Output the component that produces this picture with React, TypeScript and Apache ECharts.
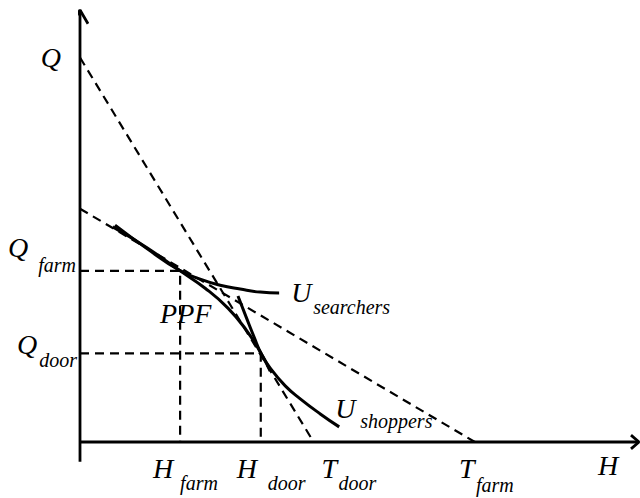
import React, { useEffect, useRef } from "react";
import * as echarts from "echarts";

// ---- axis extents (arbitrary units) ----
const X_MAX = 10.05;
const Y_MIN = -0.5;
const Y_MAX = 10;

// ---- key values ----
const Q_INTERCEPT = 8.9; // door price line meets Q axis
const T_DOOR = 4.2;
const FARM_INTERCEPT = 5.4; // farm price line meets Q axis
const T_FARM = 7.1;
const H_FARM = 1.8;
const Q_FARM = 3.96;
const H_DOOR = 3.25;
const Q_DOOR = 2.05;

// ---- curves ----
const ppfX = [0.59, 1.19, 1.78, 2.25, 2.66, 2.99, 3.26, 3.42];
const ppfY = [4.98, 4.51, 3.98, 3.56, 3.10, 2.59, 2.04, 1.64];

const searchersX = [0.63, 1.21, 1.78, 2.16, 2.52, 2.88, 3.24, 3.58];
const searchersY = [5.02, 4.47, 3.98, 3.77, 3.63, 3.54, 3.47, 3.45];

const shoppersX = [2.84, 3.0, 3.13, 3.26, 3.42, 3.69, 3.96, 4.32, 4.66];
const shoppersY = [3.38, 2.85, 2.43, 2.04, 1.71, 1.3, 1.0, 0.65, 0.35];

const zip = (xs: number[], ys: number[]) => xs.map((x, i) => [x, ys[i]]);

const FONT = "'Liberation Serif', 'Times New Roman', serif";
const MAIN = 28;
const SUB = 20;

export default function App() {
  const ref = useRef<HTMLDivElement>(null);
  useEffect(() => {
    document.body.style.margin = "0";
    const chart = echarts.init(ref.current!, undefined, { renderer: "svg" });

    const solid = (name: string, data: number[][], width = 2.8, smooth = false) => ({
      name,
      type: "line",
      data,
      smooth,
      showSymbol: false,
      silent: true,
      lineStyle: { color: "#000", width, type: "solid" },
    });
    const dashed = (name: string, data: number[][]) => ({
      name,
      type: "line",
      data,
      showSymbol: false,
      silent: true,
      lineStyle: { color: "#000", width: 2.2, type: [9, 6] },
    });

    const arrowDX = 0.144;
    const arrowDY = 0.32;

    chart.setOption({
      animation: false,
      grid: { left: 80, top: 10, width: 559, height: 453.6 },
      xAxis: { type: "value", min: 0, max: X_MAX, show: false },
      yAxis: { type: "value", min: Y_MIN, max: Y_MAX, show: false },
      series: [
        solid("yAxis", [[0, Y_MIN + 0.04], [0, Y_MAX]], 2.8),
        solid("yArrow", [[-arrowDX, Y_MAX - arrowDY], [0, Y_MAX], [arrowDX, Y_MAX - arrowDY]], 2.8),
        solid("xAxis", [[0, 0], [X_MAX, 0]], 2.8),
        solid("xArrow", [[X_MAX - arrowDX, 0.16], [X_MAX, 0], [X_MAX - arrowDX, -0.16]], 2.8),
        dashed("doorPrice", [[0, Q_INTERCEPT], [T_DOOR, 0]]),
        dashed("farmPrice", [[0, FARM_INTERCEPT], [T_FARM, 0]]),
        dashed("farmGuide", [[0, Q_FARM], [H_FARM, Q_FARM], [H_FARM, 0]]),
        dashed("doorGuide", [[0, Q_DOOR], [H_DOOR, Q_DOOR], [H_DOOR, 0]]),
        solid("PPF", zip(ppfX, ppfY), 3, true),
        solid("U searchers", zip(searchersX, searchersY), 3, true),
        solid("U shoppers", zip(shoppersX, shoppersY), 3, true),
      ],
    });

    const px = (p: number[]) => chart.convertToPixel({ gridIndex: 0 }, p) as number[];
    const txt = (text: string, x: number, baseline: number, size: number, align = "left") => ({
      type: "text",
      x,
      y: baseline - 0.34 * size,
      silent: true,
      style: {
        text,
        fill: "#000",
        font: `italic ${size}px ${FONT}`,
        fontFamily: FONT,
        fontSize: size,
        fontStyle: "italic",
        align,
        verticalAlign: "middle",
      },
    });

    const g: any[] = [];
    const q = px([0, Q_INTERCEPT]);
    g.push(txt("Q", q[0] - 19, q[1] + 9.5, MAIN, "right"));

    const qf = px([0, Q_FARM]);
    g.push(txt("Q", qf[0] - 72, qf[1] - 14, MAIN));
    g.push(txt("farm", qf[0] - 4, qf[1] + 1, SUB, "right"));

    const qd = px([0, Q_DOOR]);
    g.push(txt("Q", qd[0] - 63, qd[1] + 1, MAIN));
    g.push(txt("door", qd[0] - 3, qd[1] + 13, SUB, "right"));

    const hf = px([H_FARM, 0]);
    g.push(txt("H", hf[0] - 27, hf[1] + 36, MAIN));
    g.push(txt("farm", hf[0], hf[1] + 48, SUB));

    const hd = px([H_DOOR, 0]);
    g.push(txt("H", hd[0] - 24, hd[1] + 36, MAIN));
    g.push(txt("door", hd[0] + 7, hd[1] + 48, SUB));

    const td = px([T_DOOR, 0]);
    g.push(txt("T", td[0] + 8, td[1] + 36, MAIN));
    g.push(txt("door", td[0] + 25, td[1] + 48, SUB));

    const tf = px([T_FARM, 0]);
    g.push(txt("T", tf[0] - 16, tf[1] + 36, MAIN));
    g.push(txt("farm", tf[0] + 1, tf[1] + 50, SUB));

    const ha = px([X_MAX, 0]);
    g.push(txt("H", ha[0] - 41, ha[1] + 33, MAIN));

    const us = px([searchersX[searchersX.length - 1], searchersY[searchersY.length - 1]]);
    g.push(txt("U", us[0] + 12, us[1] + 9, MAIN));
    g.push(txt("searchers", us[0] + 34, us[1] + 21, SUB));

    const ush = px([shoppersX[shoppersX.length - 1], shoppersY[shoppersY.length - 1]]);
    g.push(txt("U", ush[0] - 4, ush[1] - 9, MAIN));
    g.push(txt("shoppers", ush[0] + 21, ush[1] + 1, SUB));

    const pp = px([H_FARM, Q_FARM]);
    g.push(txt("PPF", pp[0] - 20, pp[1] + 52, MAIN));

    chart.setOption({ graphic: g });

    return () => chart.dispose();
  }, []);
  return <div ref={ref} style={{ width: 640, height: 498 }} />;
}
